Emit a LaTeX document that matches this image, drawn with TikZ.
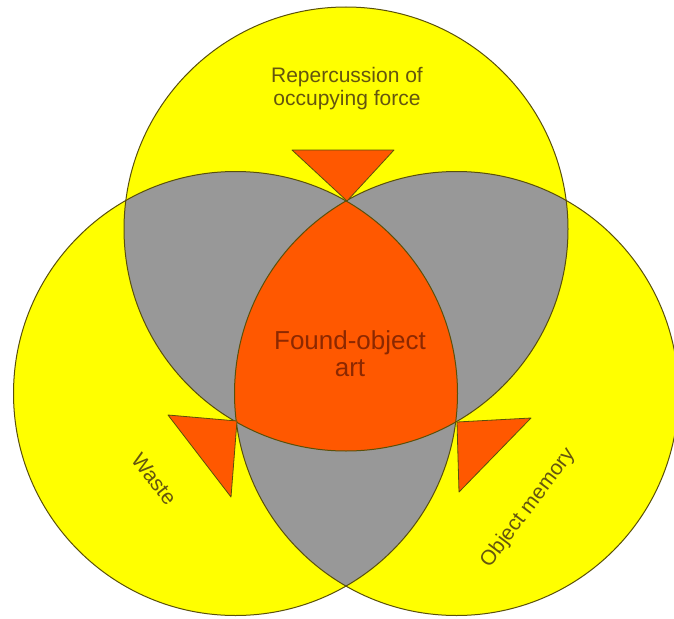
\documentclass[tikz,border=0pt]{standalone}
\usepackage{fontspec}
\setmainfont{Liberation Sans}
\usetikzlibrary{positioning}
\definecolor{vennyellow}{RGB}{255,255,0}
\definecolor{venngray}{RGB}{152,152,152}
\definecolor{vennorange}{RGB}{255,88,0}
\definecolor{vennline}{RGB}{90,80,10}
\definecolor{venntext}{RGB}{100,85,15}
\definecolor{centertext}{RGB}{140,40,0}

\begin{document}
\begin{tikzpicture}[x=1pt,y=-1pt,
    ring/.style={draw=vennline,line width=1pt},
    wedge/.style={fill=vennorange,draw=vennline,line width=0.8pt,line join=round},
    settext/.style={text=venntext,align=center,font=\fontsize{21}{23}\selectfont}]
\useasboundingbox (0,0) rectangle (674,618);
\clip (0,0) rectangle (674,618);
\fill[white] (0,0) rectangle (674,618);

\coordinate (ctop) at (346,229);
\coordinate (cleft) at (235.5,393.5);
\coordinate (cright) at (456.5,393.5);

% the three sets
\foreach \c in {ctop,cleft,cright}
    \fill[vennyellow] (\c) circle[radius=222];

% pairwise overlaps
\begin{scope}
    \clip (ctop) circle[radius=222];
    \fill[venngray] (cleft) circle[radius=222];
    \fill[venngray] (cright) circle[radius=222];
\end{scope}
\begin{scope}
    \clip (cleft) circle[radius=222];
    \fill[venngray] (cright) circle[radius=222];
\end{scope}

% common part
\begin{scope}
    \clip (ctop) circle[radius=222];
    \clip (cleft) circle[radius=222];
    \fill[vennorange] (cright) circle[radius=222];
\end{scope}

\foreach \c in {ctop,cleft,cright}
    \draw[ring] (\c) circle[radius=222];

% pointers
\draw[wedge] (292,150) -- (394,150) -- (347,201) -- cycle;
\draw[wedge] (168,415) -- (237,421) -- (231,497) -- cycle;
\draw[wedge] (457,422) -- (531,418) -- (459,492) -- cycle;

\node[settext] (force) at (347,89) {Repercussion of\\occupying force};
\node[settext,text=centertext,font=\fontsize{26}{27}\selectfont] (art) at (350,354) {Found-object\\art};
\node[settext,rotate=-52] (waste) at (154,479) {Waste};
\node[settext,rotate=53] (memory) at (528,508) {Object memory};
\end{tikzpicture}
\end{document}
